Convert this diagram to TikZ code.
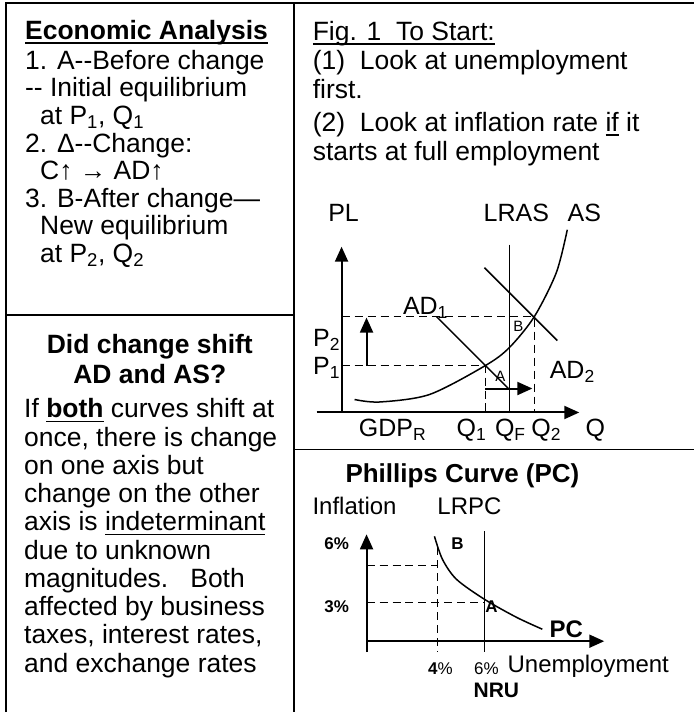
\documentclass[tikz,border=0pt]{standalone}
\usepackage{fontspec}
\setmainfont{Liberation Sans}
\usetikzlibrary{arrows.meta}
\newcommand{\sbs}[1]{\textsubscript{#1}}
\newcommand{\uln}[1]{\setbox0\hbox{#1}\rlap{\rule[-4.5pt]{\wd0}{1.4pt}}\box0\relax}
\tikzset{
  body/.style={inner sep=0pt, align=left, font=\fontsize{26.5}{27.6}\selectfont},
  lab/.style={inner sep=0pt, font=\fontsize{25}{25}\selectfont},
  pclab/.style={inner sep=0pt, font=\fontsize{24}{24}\selectfont},
  pcnum/.style={inner sep=0pt, font=\bfseries\fontsize{17}{17}\selectfont},
  ptlab/.style={inner sep=0pt, font=\fontsize{15}{15}\selectfont},
  guide/.style={line width=1.3pt, dash pattern=on 8pt off 5pt},
  grline/.style={line width=1.5pt},
  axisline/.style={line width=2pt, ->},
  framerule/.style={line width=1.8pt}
}

\begin{document}
\begin{tikzpicture}[x=1pt,y=-1pt,>={Triangle[length=15pt,width=13pt]}]
\fill[white] (0,0) rectangle (695,713);
\draw[framerule] (6,713) -- (6,3) -- (695,3);
\draw[framerule] (294,3) -- (294,713);
\draw[framerule] (6,315) -- (294,315);
\draw[framerule] (294,450) -- (695,450);

\node[body, anchor=north west] (econ) at (25,20) {\textbf{\uln{Economic Analysis}}\\[2.4pt]
1. A-{}-Before change\\
-{}- Initial equilibrium\\
\hspace*{15pt}at P\sbs{1}, Q\sbs{1}\\
2. Δ-{}-Change:\\
\hspace*{15pt}C↑ → AD↑\\
3. B-After change—\\
\hspace*{15pt}New equilibrium\\
\hspace*{15pt}at P\sbs{2}, Q\sbs{2}};

\node[body, anchor=north, align=center, font=\bfseries\fontsize{26.5}{30}\selectfont] (shifthead) at (150,335) {Did change shift\\AD and AS?};
\node[body, anchor=north west, font=\fontsize{26.5}{28.3}\selectfont] (shiftbody) at (24,399) {If \textbf{\uln{both}} curves shift at\\
once, there is change\\
on one axis but\\
change on the other\\
axis is \uln{indeterminant}\\
due to unknown\\
magnitudes.\ \ \ Both\\
affected by business\\
taxes, interest rates,\\
and exchange rates};

\node[body, anchor=north west, font=\fontsize{26.5}{29}\selectfont] (start) at (313,21) {\uln{Fig. 1\ \ To Start:}\\
(1)\ \ Look at unemployment\\
first.\\[4pt]
(2)\ \ Look at inflation rate \uln{if} it\\
starts at full employment};

% AD-AS graph
\coordinate (O1) at (342,413);
\coordinate (ytip) at (342,247);
\coordinate (xstart) at (317,413);
\coordinate (xtip) at (580,413);
\coordinate (A) at (486,366);
\coordinate (B) at (535,317);
\draw[axisline] (O1) -- (ytip);
\draw[axisline] (xstart) -- (xtip);
\draw[grline] (510,245) -- (510,413);
\draw[grline] (437,317) -- (509,389);
\draw[grline] (485,268) -- (558,341);
\draw[grline] plot[smooth] coordinates {(355,400) (380,402.5) (430,395) (486,366) (510,348) (535,317) (557,273) (568,230)};
\draw[guide] (342,317) -- (B) -- (535,413);
\draw[guide] (342,366) -- (A) -- (486,413);
\draw[->, line width=2pt] (367,366) -- (367,318);
\draw[->, line width=2pt] (486,389) -- (533,389);

\node[lab, anchor=base] (pl) at (344,222) {PL};
\node[lab, anchor=base] (lras) at (517,222) {LRAS};
\node[lab, anchor=base] (aslab) at (585,222) {AS};
\node[lab, anchor=base] (ad1) at (426,315) {AD\sbs{1}};
\node[lab, anchor=base] (ad2) at (573,379) {AD\sbs{2}};
\node[lab, anchor=base] (p2) at (327,347) {P\sbs{2}};
\node[lab, anchor=base] (p1) at (327,375) {P\sbs{1}};
\node[ptlab, anchor=base] (ptB) at (519,332) {B};
\node[ptlab, anchor=base] (ptA) at (501,382) {A};
\node[lab, anchor=base] (gdp) at (393,437) {GDP\sbs{R}};
\node[lab, anchor=base] (q1) at (472,437) {Q\sbs{1}};
\node[lab, anchor=base] (qf) at (511,437) {Q\sbs{F}};
\node[lab, anchor=base] (q2) at (547,437) {Q\sbs{2}};
\node[lab, anchor=base] (qq) at (596,437) {Q};

% Phillips curve
\draw[axisline] (367,653) -- (367,535);
\draw[axisline] (367,642) -- (605,642);
\draw[grline] (485,532) -- (485,653);
\draw[grline] plot[smooth] coordinates {(435,537) (443,560) (457,580) (485,600) (517,618) (543,630)};
\draw[guide] (367,566) -- (438,566);
\draw[guide] (438,548) -- (438,653);
\draw[guide] (367,603) -- (485,603);

\node[pclab, font=\bfseries\fontsize{26}{26}\selectfont, anchor=base] (pctitle) at (463,483) {Phillips Curve (PC)};
\node[pclab, anchor=base] (infl) at (355,515) {Inflation};
\node[pclab, anchor=base] (lrpc) at (470,515) {LRPC};
\node[pcnum, anchor=base] (six) at (337,550) {6\%};
\node[pcnum, anchor=base] (three) at (337,613) {3\%};
\node[pcnum, anchor=base] (pcB) at (458,550) {B};
\node[pcnum, anchor=base] (pcA) at (492,613) {A};
\node[pcnum, font=\bfseries\fontsize{24}{24}\selectfont, anchor=base] (pcname) at (567,638) {PC};
\node[pcnum, font=\fontsize{17}{17}\selectfont, anchor=base] (four) at (441,675) {\textbf{4}\%};
\node[pcnum, font=\fontsize{17}{17}\selectfont, anchor=base] (sixnru) at (487,675) {6\%};
\node[pclab, anchor=base] (unemp) at (589,673) {Unemployment};
\node[pcnum, font=\bfseries\fontsize{21}{21}\selectfont, anchor=base] (nru) at (497,698) {NRU};
\end{tikzpicture}
\end{document}
